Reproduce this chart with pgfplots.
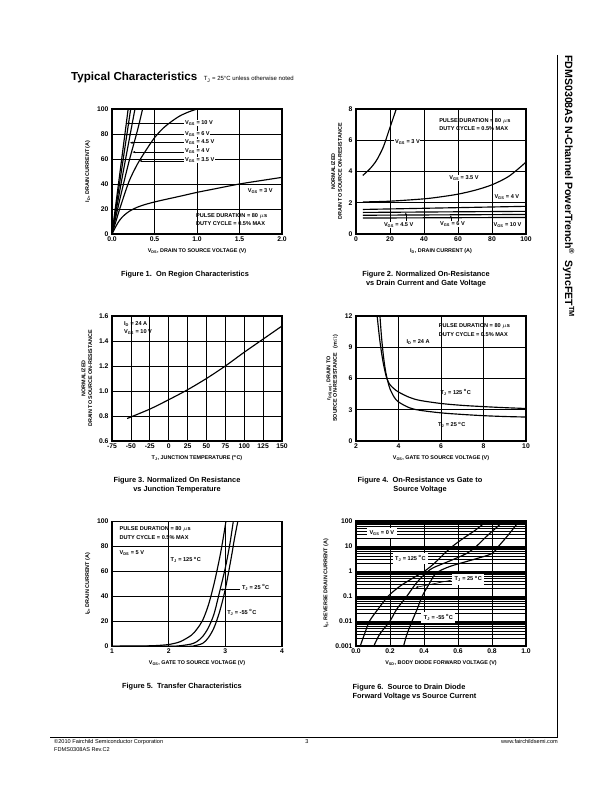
\documentclass[border=0pt]{standalone}
\usepackage{fontspec}
\setmainfont{Liberation Sans}
\usepackage{pgfplots}
\pgfplotsset{compat=1.18}
\usetikzlibrary{arrows.meta}
\newcommand{\lbl}{\bfseries\fontsize{5.6}{6.5}\selectfont}
\pgfplotsset{
  dsax/.style={scale only axis, width=170pt, height=125pt, anchor=south west,
    grid=major, major grid style={black, line width=0.75pt},
    axis line style={line width=1.1pt}, tick style={draw=none},
    /pgf/number format/assume math mode=true,
    ticklabel style={font=\bfseries\fontsize{6.8}{7.5}\selectfont},
    xticklabel style={yshift=1pt},
    label style={font=\bfseries\fontsize{5.4}{6.6}\selectfont, align=center},
    cycle list={{black, solid, line width=1.15pt}},
    every axis plot/.append style={black, solid, line width=1.15pt, no markers},
    clip=true}
}
\tikzset{
  ldr/.style={black, line width=0.6pt, -{Stealth[length=3pt,width=2.2pt]}},
  tb/.style={font=\lbl, fill=white, inner sep=0.6pt}
}
\begin{document}
\begin{tikzpicture}
\useasboundingbox[fill=white] (0pt,0pt) rectangle (612pt,792pt);
% header
\node[anchor=base west, inner sep=0] at (71pt,711.2pt) {\bfseries\fontsize{11.6}{13}\selectfont Typical Characteristics\ \ {\normalfont\fontsize{6}{7}\selectfont T\textsubscript{J} = 25\textdegree C unless otherwise noted}};
% right side title and frame
\draw[line width=0.6pt] (557.5pt,737pt) -- (557.5pt,54.3pt) -- (50pt,54.3pt);
\node[rotate=-90, anchor=north west, inner sep=0] at (574.5pt,737pt) {\bfseries\fontsize{10.6}{12}\selectfont FDMS0308AS N-Channel PowerTrench\textsuperscript{\textregistered}\ \ SyncFET\textsuperscript{TM}};
% footer
\node[anchor=base west, inner sep=0, font=\fontsize{5.6}{6.8}\selectfont] at (54pt,48pt) {\textcopyright 2010 Fairchild Semiconductor Corporation};
\node[anchor=base west, inner sep=0, font=\fontsize{5.6}{6.8}\selectfont] at (54pt,40.5pt) {FDMS0308AS Rev.C2};
\node[anchor=base, inner sep=0, font=\fontsize{5.6}{6.8}\selectfont] at (307pt,48pt) {3};
\node[anchor=base east, inner sep=0, font=\fontsize{5.6}{6.8}\selectfont] at (558pt,48pt) {www.fairchildsemi.com};

% captions
\begin{scope}[every node/.style={font=\bfseries\fontsize{7.4}{9}\selectfont, inner sep=0}]
\node[align=center] at (185pt,517pt) {Figure 1.\ \ On Region Characteristics};
\node[align=center] at (426pt,512.5pt) {Figure 2. Normalized On-Resistance\\vs Drain Current and Gate Voltage};
\node[align=center] at (177pt,307pt) {Figure 3. Normalized On Resistance\\vs Junction Temperature};
\node[align=center] at (420pt,307pt) {Figure 4.\ \ On-Resistance vs Gate to\\Source Voltage};
\node[align=center] at (182pt,105pt) {Figure 5.\ \ Transfer Characteristics};
\node[align=left, anchor=west] at (352.5pt,100pt) {Figure 6.\ \ Source to Drain Diode\\Forward Voltage vs Source Current};
\end{scope}

% ---------------- Figure 1 ----------------
\begin{axis}[dsax, at={(112pt,558pt)}, xmin=0, xmax=2, ymin=0, ymax=100,
  xtick={0,0.5,1,1.5,2}, ytick={0,20,40,60,80,100},
  xticklabel style={/pgf/number format/fixed, /pgf/number format/fixed zerofill, /pgf/number format/precision=1},
  xlabel={V\textsubscript{DS}, DRAIN TO SOURCE VOLTAGE (V)},
  ylabel={I\textsubscript{D}, DRAIN CURRENT (A)}]
\addplot coordinates {(0,0) (0.19,100)};
\addplot coordinates {(0,0) (0.22,100)};
\addplot[smooth] coordinates {(0,0) (0.13,49) (0.27,100)};
\addplot[smooth] coordinates {(0,0) (0.1,30) (0.2,58) (0.3,83) (0.36,100)};
\addplot[smooth] coordinates {(0,0) (0.05,11) (0.1,22) (0.2,42) (0.3,56) (0.4,67) (0.5,77) (0.6,84.5) (0.7,90) (0.8,94.5) (0.9,97.6) (1.0,100)};
\addplot[smooth] coordinates {(0,0) (0.03,4) (0.07,9) (0.12,13.5) (0.2,18) (0.3,21.5) (0.4,23.8) (0.5,25.6) (0.6,27.2) (0.8,30.2) (1.0,33.3) (1.2,36) (1.5,40) (1.75,42.7) (2.0,45.3)};
\draw[ldr] (axis cs:0.845,88.5) -- (axis cs:0.17,88.5);
\draw[ldr] (axis cs:0.845,79.5) -- (axis cs:0.18,79.5);
\draw[ldr] (axis cs:0.845,73) -- (axis cs:0.21,73);
\draw[ldr] (axis cs:0.845,65.5) -- (axis cs:0.24,65.5);
\draw[ldr] (axis cs:0.845,58.5) -- (axis cs:0.32,58.5);
\node[tb, anchor=west] at (axis cs:0.85,88.5) {V\textsubscript{GS} = 10 V};
\node[tb, anchor=west] at (axis cs:0.85,80.3) {V\textsubscript{GS} = 6 V};
\node[tb, anchor=west] at (axis cs:0.85,73.9) {V\textsubscript{GS} = 4.5 V};
\node[tb, anchor=west] at (axis cs:0.85,66.4) {V\textsubscript{GS} = 4 V};
\node[tb, anchor=west] at (axis cs:0.85,59.2) {V\textsubscript{GS} = 3.5 V};
\node[tb, anchor=west] at (axis cs:1.59,34.7) {V\textsubscript{GS} = 3 V};
\node[tb, anchor=west, fill=none] at (axis cs:0.98,14) {PULSE DURATION = 80 $\mu$s};
\node[tb, anchor=west, fill=none] at (axis cs:0.98,8) {DUTY CYCLE = 0.5\% MAX};
\end{axis}

% ---------------- Figure 2 ----------------
\begin{axis}[dsax, at={(356pt,558pt)}, xmin=0, xmax=100, ymin=0, ymax=8,
  xtick={0,20,40,60,80,100}, ytick={0,2,4,6,8},
  xlabel={I\textsubscript{D}, DRAIN CURRENT (A)},
  ylabel={NORMALIZED\\DRAIN TO SOURCE ON-RESISTANCE}]
\addplot[smooth] coordinates {(4,3.75) (8,4.15) (12,4.7) (16,5.55) (19,6.5) (21.5,7.3) (24,8.1)};
\addplot[smooth] coordinates {(4,2.05) (20,2.1) (40,2.25) (50,2.38) (60,2.55) (70,2.8) (80,3.15) (90,3.7) (100,4.6)};
\addplot coordinates {(4,1.57) (100,1.77)};
\addplot coordinates {(4,1.38) (100,1.45)};
\addplot coordinates {(4,1.2) (100,1.25)};
\addplot coordinates {(4,1.02) (100,1.06)};
\draw[ldr] (axis cs:29.3,0.8) -- (axis cs:29.3,1.38);
\draw[ldr] (axis cs:55.8,0.8) -- (axis cs:55.8,1.2);
\node[tb, anchor=west] at (axis cs:22.5,5.9) {V\textsubscript{GS} = 3 V};
\node[tb, anchor=west] at (axis cs:54.4,3.56) {V\textsubscript{GS} = 3.5 V};
\node[tb, anchor=west] at (axis cs:81,2.35) {V\textsubscript{GS} = 4 V};
\node[tb, anchor=west] at (axis cs:16,0.58) {V\textsubscript{GS} = 4.5 V};
\node[tb, anchor=west] at (axis cs:49,0.64) {V\textsubscript{GS} = 6 V};
\node[tb, anchor=west] at (axis cs:80.5,0.58) {V\textsubscript{GS} = 10 V};
\node[tb, anchor=west, fill=none] at (axis cs:48.5,7.25) {PULSE DURATION = 80 $\mu$s};
\node[tb, anchor=west, fill=none] at (axis cs:48.5,6.76) {DUTY CYCLE = 0.5\% MAX};
\end{axis}

% ---------------- Figure 3 ----------------
\begin{axis}[dsax, at={(112pt,351pt)}, xmin=-75, xmax=150, ymin=0.6, ymax=1.6,
  xtick={-75,-50,-25,0,25,50,75,100,125,150}, ytick={0.6,0.8,1.0,1.2,1.4,1.6},
  yticklabel style={/pgf/number format/fixed, /pgf/number format/fixed zerofill, /pgf/number format/precision=1},
  xlabel={T\textsubscript{J}, JUNCTION TEMPERATURE (\textsuperscript{o}C)},
  ylabel={NORMALIZED\\DRAIN TO SOURCE ON-RESISTANCE}]
\addplot[smooth] coordinates {(-55,0.78) (-25,0.855) (0,0.93) (25,1.01) (50,1.10) (75,1.20) (100,1.31) (125,1.415) (150,1.52)};
\node[tb, anchor=west, fill=none] at (axis cs:-60,1.536) {I\textsubscript{D} = 24 A};
\node[tb, anchor=west, fill=none] at (axis cs:-60,1.475) {V\textsubscript{GS} = 10 V};
\end{axis}

% ---------------- Figure 4 ----------------
\begin{axis}[dsax, at={(356pt,351pt)}, xmin=2, xmax=10, ymin=0, ymax=12,
  xtick={2,4,6,8,10}, ytick={0,3,6,9,12},
  xlabel={V\textsubscript{GS}, GATE TO SOURCE VOLTAGE (V)},
  ylabel={r\textsubscript{DS(on)}, DRAIN TO\\SOURCE ON-RESISTANCE\ \ \ (m$\Omega$)}]
\addplot[smooth] coordinates {(2.97,12.5) (3.1,10) (3.2,8.5) (3.3,7.3) (3.45,6.0) (3.6,5.4) (3.8,5.0) (4,4.7) (4.5,4.2) (5,3.9) (6,3.6) (7,3.42) (8,3.3) (9,3.2) (10,3.12)};
\addplot[smooth] coordinates {(3.11,12.5) (3.2,10) (3.3,8) (3.4,6.6) (3.5,5.7) (3.6,5.0) (3.8,4.2) (4,3.75) (4.5,3.2) (5,2.95) (6,2.7) (7,2.55) (8,2.43) (9,2.35) (10,2.3)};
\node[tb, anchor=west, fill=none] at (axis cs:4.34,9.5) {I\textsubscript{D} = 24 A};
\node[tb, anchor=west, fill=none] at (axis cs:5.86,10.98) {PULSE DURATION = 80 $\mu$s};
\node[tb, anchor=west, fill=none] at (axis cs:5.86,10.24) {DUTY CYCLE = 0.5\% MAX};
\node[tb, anchor=west, fill=none] at (axis cs:5.94,4.64) {T\textsubscript{J} = 125 \textsuperscript{o}C};
\node[tb, anchor=west, fill=none] at (axis cs:5.83,1.54) {T\textsubscript{J} = 25 \textsuperscript{o}C};
\end{axis}

% ---------------- Figure 5 ----------------
\begin{axis}[dsax, at={(112pt,145.5pt)}, xmin=1, xmax=4, ymin=0, ymax=100,
  xtick={1,2,3,4}, ytick={0,20,40,60,80,100},
  xlabel={V\textsubscript{GS}, GATE TO SOURCE VOLTAGE (V)},
  ylabel={I\textsubscript{D}, DRAIN CURRENT (A)}]
\addplot[smooth] coordinates {(1,0.3) (1.6,0.5) (1.8,0.8) (2.0,1.6) (2.2,3.8) (2.4,9) (2.5,14) (2.6,21) (2.7,33) (2.8,50) (2.9,71) (2.96,86) (3.01,100)};
\addplot[smooth] coordinates {(1,0.1) (2.0,0.2) (2.2,0.6) (2.4,2) (2.5,4) (2.6,8) (2.7,15) (2.8,26) (2.9,44) (3.0,63) (3.08,82) (3.14,100)};
\addplot[smooth] coordinates {(1,0) (2.3,0.1) (2.45,0.6) (2.6,2.5) (2.7,7) (2.8,15) (2.9,28) (3.0,46) (3.1,70) (3.16,86) (3.22,100)};
\draw[ldr] (axis cs:3.26,45.5) -- (axis cs:2.91,45.5);
\draw[black, line width=0.6pt] (axis cs:3.0,32) -- (axis cs:3.0,44);
\node[tb, anchor=west, fill=none] at (axis cs:1.12,94) {PULSE DURATION = 80 $\mu$s};
\node[tb, anchor=west, fill=none] at (axis cs:1.12,87.5) {DUTY CYCLE = 0.5\% MAX};
\node[tb, anchor=west, fill=none] at (axis cs:1.12,74.7) {V\textsubscript{DS} = 5 V};
\node[tb, anchor=west] at (axis cs:2.02,69.3) {T\textsubscript{J} = 125 \textsuperscript{o}C};
\node[tb, anchor=west] at (axis cs:3.28,47.2) {T\textsubscript{J} = 25 \textsuperscript{o}C};
\node[tb, anchor=west] at (axis cs:3.02,27.2) {T\textsubscript{J} = -55 \textsuperscript{o}C};
\end{axis}

% ---------------- Figure 6 ----------------
\begin{axis}[dsax, at={(356pt,146pt)}, xmin=0, xmax=1, ymode=log, ymin=0.001, ymax=100,
  grid=both, minor grid style={black, line width=0.75pt},
  xtick={0,0.2,0.4,0.6,0.8,1.0}, ytick={0.001,0.01,0.1,1,10,100},
  yticklabels={0.001,0.01,0.1,1,10,100},
  xticklabel style={/pgf/number format/fixed, /pgf/number format/fixed zerofill, /pgf/number format/precision=1},
  xlabel={V\textsubscript{SD}, BODY DIODE FORWARD VOLTAGE (V)},
  ylabel={I\textsubscript{S}, REVERSE DRAIN CURRENT (A)}]
\addplot[smooth] coordinates {(0.025,0.001) (0.05,0.003) (0.08,0.01) (0.13,0.03) (0.19,0.1) (0.26,0.25) (0.33,0.5) (0.4,0.95) (0.46,2) (0.52,5) (0.57,10) (0.63,20) (0.7,42) (0.77,100)};
\addplot[smooth] coordinates {(0.105,0.001) (0.14,0.003) (0.2,0.01) (0.24,0.03) (0.3,0.1) (0.35,0.3) (0.4,0.7) (0.45,1.3) (0.55,2.5) (0.65,5) (0.71,10) (0.77,25) (0.87,100)};
\addplot[smooth] coordinates {(0.28,0.001) (0.3,0.003) (0.33,0.01) (0.36,0.03) (0.39,0.1) (0.43,0.3) (0.47,0.8) (0.55,1.5) (0.7,3) (0.8,5) (0.84,10) (0.9,30) (0.96,100)};
\draw[ldr] (axis cs:0.56,0.43) -- (axis cs:0.35,0.22);
\node[tb, inner sep=2.5pt] at (axis cs:0.152,34) {V\textsubscript{GS} = 0 V};
\node[tb, inner sep=2.5pt] at (axis cs:0.32,3.2) {T\textsubscript{J} = 125 \textsuperscript{o}C};
\node[tb, inner sep=2.5pt] at (axis cs:0.66,0.47) {T\textsubscript{J} = 25 \textsuperscript{o}C};
\node[tb, inner sep=2.5pt] at (axis cs:0.485,0.0137) {T\textsubscript{J} = -55 \textsuperscript{o}C};
\end{axis}
\end{tikzpicture}
\end{document}
